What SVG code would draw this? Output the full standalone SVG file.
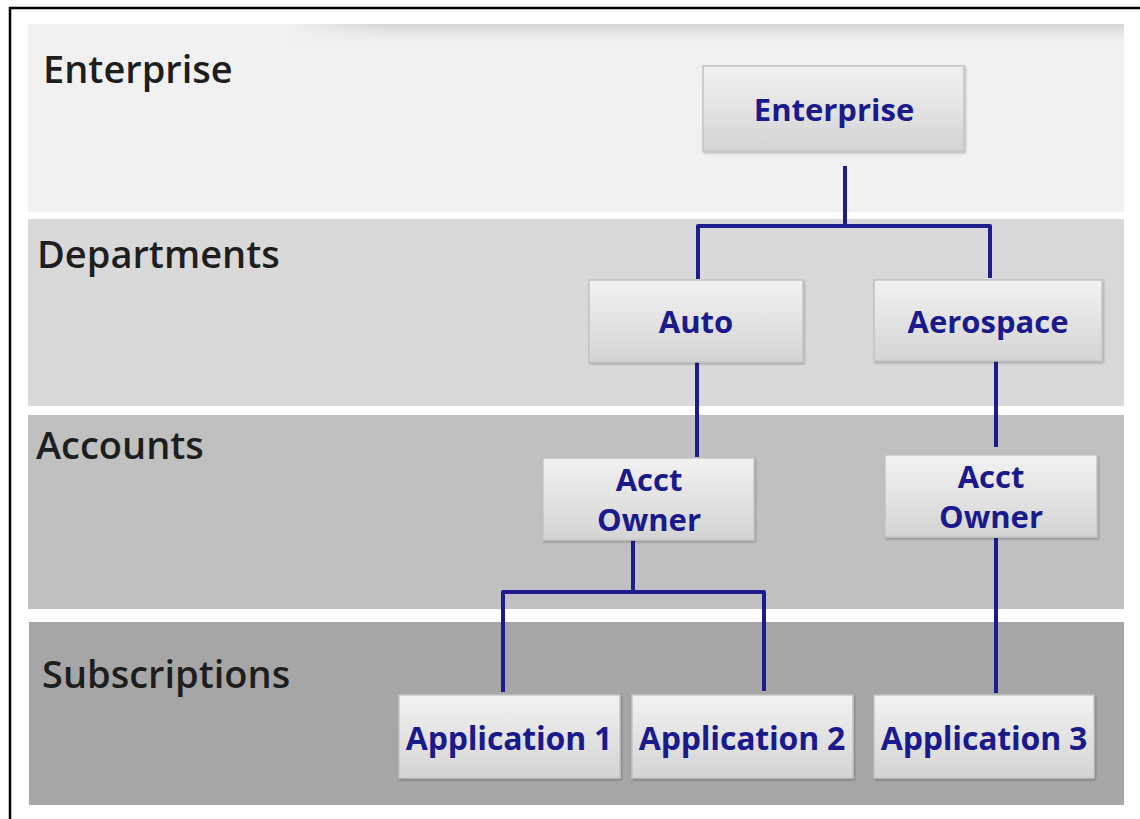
<svg xmlns="http://www.w3.org/2000/svg" width="1140" height="819" viewBox="0 0 1140 819">
<defs>
<linearGradient id="nodeFill" x1="0" y1="0" x2="0" y2="1">
<stop offset="0" stop-color="#f2f2f2"/>
<stop offset="1" stop-color="#d4d4d4"/>
</linearGradient>
<linearGradient id="topShade" x1="0" y1="0" x2="0" y2="1">
<stop offset="0" stop-color="#cfcfcf" stop-opacity="0.9"/>
<stop offset="1" stop-color="#f1f1f1" stop-opacity="0"/>
</linearGradient>
<linearGradient id="hFade" x1="0" y1="0" x2="1" y2="0">
<stop offset="0" stop-color="#fff" stop-opacity="0"/>
<stop offset="0.12" stop-color="#fff" stop-opacity="1"/>
<stop offset="1" stop-color="#fff" stop-opacity="1"/>
</linearGradient>
<mask id="fadeMask"><rect x="290" y="24" width="834" height="22" fill="url(#hFade)"/></mask>
<filter id="sh" x="-5%" y="-5%" width="112%" height="120%">
<feDropShadow dx="1" dy="1.5" stdDeviation="1.2" flood-color="#000" flood-opacity="0.25"/>
</filter>
</defs>
<style>
.band-label{font-family:"Open Sans","Liberation Sans",sans-serif;font-weight:600;font-size:38px;fill:#1e1e1e;}
.node rect{fill:url(#nodeFill);stroke:#c4c4c4;stroke-width:1.5;filter:url(#sh);}
.node text{font-family:"Open Sans","Liberation Sans",sans-serif;font-weight:bold;font-size:31px;fill:#1a1a8c;text-anchor:middle;}
.node text.app{font-size:32px;letter-spacing:-0.2px;}
.conn{fill:none;stroke:#1c1c8c;stroke-width:4;stroke-linejoin:round;stroke-linecap:butt;}
</style>
<rect width="1140" height="819" fill="#ffffff"/>
<!-- frame -->
<path d="M10 819 V8 H1140" fill="none" stroke="#000" stroke-width="2.5"/>
<!-- bands -->
<g id="bands">
<rect x="28" y="24" width="1096" height="188" fill="#f1f1f1"/>
<rect x="290" y="24" width="834" height="22" fill="url(#topShade)" mask="url(#fadeMask)"/>
<rect x="28" y="219" width="1096" height="187" fill="#d9d9d9"/>
<rect x="28" y="415" width="1096" height="194" fill="#c0c0c0"/>
<rect x="29" y="622" width="1095" height="183" fill="#a6a6a6"/>
<text class="band-label" x="43" y="83">Enterprise</text>
<text class="band-label" x="37" y="268">Departments</text>
<text class="band-label" x="36" y="459">Accounts</text>
<text class="band-label" x="42" y="688">Subscriptions</text>
</g>
<!-- connectors -->
<g id="connectors">
<path class="conn" d="M845 166 V226 M698 279 V226 H990 V278"/>
<path class="conn" d="M697 362 V457"/>
<path class="conn" d="M996 360 V447"/>
<path class="conn" d="M633 540 V592 M503 692 V592 H764 V691"/>
<path class="conn" d="M996 538 V693"/>
</g>
<!-- nodes -->
<g id="node-enterprise" class="node"><rect x="703" y="66" width="261" height="85"/><text x="834" y="121">Enterprise</text></g>
<g id="node-auto" class="node"><rect x="589" y="280" width="214" height="82"/><text x="696" y="333">Auto</text></g>
<g id="node-aerospace" class="node"><rect x="874" y="280" width="228" height="81"/><text x="988" y="333">Aerospace</text></g>
<g id="node-acct1" class="node"><rect x="543" y="458" width="211" height="82"/><text x="649" y="491">Acct</text><text x="649" y="531">Owner</text></g>
<g id="node-acct2" class="node"><rect x="885" y="455" width="212" height="82"/><text x="991" y="488">Acct</text><text x="991" y="528">Owner</text></g>
<g id="node-app1" class="node"><rect x="399" y="695" width="221" height="83"/><text class="app" x="509" y="750">Application 1</text></g>
<g id="node-app2" class="node"><rect x="632" y="695" width="221" height="83"/><text class="app" x="742" y="750">Application 2</text></g>
<g id="node-app3" class="node"><rect x="874" y="695" width="220" height="83"/><text class="app" x="984" y="750">Application 3</text></g>
</svg>
